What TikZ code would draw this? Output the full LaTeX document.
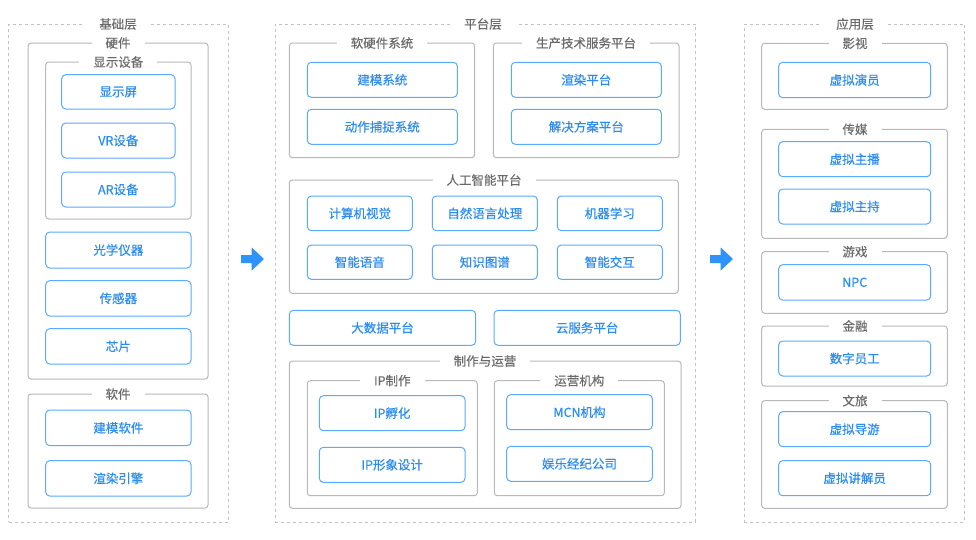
\documentclass[tikz,border=0pt]{standalone}
\usepackage{fontspec}
\setmainfont{Noto Sans CJK SC}
\newfontfamily\itemfont[FakeBold=0.5]{Noto Sans CJK SC}
\newfontfamily\lblfont[FakeBold=0.25]{Noto Sans CJK SC}
\usetikzlibrary{calc}
\definecolor{itemline}{HTML}{5AAAFF}
\definecolor{itemtext}{HTML}{2B8CF2}
\definecolor{grpline}{HTML}{B8B8B8}
\definecolor{outline}{HTML}{C2C2C2}
\definecolor{lbltext}{HTML}{6A6A6A}
\definecolor{arrowblue}{HTML}{2D93FF}
\tikzset{
  base/.style={inner sep=0pt, outer sep=0pt},
  layerbox/.style={base, draw=outline, line width=1pt, dash pattern=on 3pt off 3pt},
  grpbox/.style={base, draw=grpline, line width=1pt, rounded corners=3pt},
  itembox/.style={base, draw=itemline, line width=1pt, rounded corners=4pt, text=itemtext, font=\itemfont\fontsize{12.5}{14}\selectfont},
  grplabel/.style={base, fill=white, text=lbltext, inner xsep=14pt, inner ysep=1pt, font=\lblfont\fontsize{12.5}{14}\selectfont},
}
% \bx{style}{name}{x1}{y1}{x2}{y2}{text}
\newcommand{\bx}[7]{\node[#1, minimum width={#5pt-#3pt}, minimum height={#6pt-#4pt}] (#2) at ({(#3+#5)/2},{(#4+#6)/2}) {#7};}
% \gl{name}{x}{y}{text}
\newcommand{\gl}[4]{\node[grplabel] (#1) at (#2,#3) {#4};}
\begin{document}
\begin{tikzpicture}[x=1pt,y=-1pt]
\useasboundingbox[fill=white] (0,0) rectangle (976,539);

% ---------- 基础层 ----------
\bx{layerbox}{baseL}{8.5}{24}{228}{522}{}
\gl{baseLl}{118}{24}{基础层}
\bx{grpbox}{hw}{28}{43}{208}{379}{}
\gl{hwl}{118}{43}{硬件}
\bx{grpbox}{disp}{45.7}{62}{191}{219}{}
\gl{displ}{118.3}{62}{显示设备}
\bx{itembox}{screen}{61.7}{74.7}{175}{109}{显示屏}
\bx{itembox}{vr}{61.7}{123}{175}{158}{VR设备}
\bx{itembox}{ar}{61.7}{172}{175}{207}{AR设备}
\bx{itembox}{optic}{45.7}{232}{191}{268}{光学仪器}
\bx{itembox}{sensor}{45.7}{280.7}{191}{316}{传感器}
\bx{itembox}{chip}{45.7}{328.7}{191}{364}{芯片}
\bx{grpbox}{sw}{28}{394}{208}{508}{}
\gl{swl}{118}{394}{软件}
\bx{itembox}{modsw}{45.7}{410}{191}{445.7}{建模软件}
\bx{itembox}{render}{45.7}{460.7}{191}{496}{渲染引擎}

% ---------- 平台层 ----------
\bx{layerbox}{platL}{275.3}{24}{695.7}{522}{}
\gl{platLl}{483}{24}{平台层}
\bx{grpbox}{shw}{289.3}{43}{474.7}{157.7}{}
\gl{shwl}{382}{43}{软硬件系统}
\bx{itembox}{modsys}{307.3}{62.3}{457.3}{97.3}{建模系统}
\bx{itembox}{mocap}{307.3}{109.3}{457.3}{144.3}{动作捕捉系统}
\bx{grpbox}{prod}{493.3}{43}{679}{157.7}{}
\gl{prodl}{586}{43}{生产技术服务平台}
\bx{itembox}{rplat}{511.3}{62.3}{661.3}{97.3}{渲染平台}
\bx{itembox}{solplat}{511.3}{109.3}{661.3}{144.3}{解决方案平台}
\bx{grpbox}{ai}{289.3}{180}{678.3}{293.3}{}
\gl{ail}{484}{180}{人工智能平台}
\bx{itembox}{cv}{307.3}{196}{412.3}{230.7}{计算机视觉}
\bx{itembox}{nlp}{432.3}{196}{537.3}{230.7}{自然语言处理}
\bx{itembox}{ml}{557.3}{196}{662.3}{230.7}{机器学习}
\bx{itembox}{speech}{307.3}{245}{412.3}{279.3}{智能语音}
\bx{itembox}{kg}{432.3}{245}{537.3}{279.3}{知识图谱}
\bx{itembox}{inter}{557.3}{245}{662.3}{279.3}{智能交互}
\bx{itembox}{bigdata}{289.3}{310.3}{475.7}{345.3}{大数据平台}
\bx{itembox}{cloud}{494}{310.3}{680.3}{345.3}{云服务平台}
\bx{grpbox}{ops}{289.3}{361}{681}{508.3}{}
\gl{opsl}{485}{361}{制作与运营}
\bx{grpbox}{ip}{307.3}{380.7}{477.3}{495.7}{}
\gl{ipl}{392.3}{380.7}{IP制作}
\bx{itembox}{ipinc}{319.3}{395.7}{465}{430.7}{IP孵化}
\bx{itembox}{ipdes}{319.3}{447.3}{465}{482.3}{IP形象设计}
\bx{grpbox}{org}{494.3}{380.7}{664.3}{495.7}{}
\gl{orgl}{579.3}{380.7}{运营机构}
\bx{itembox}{mcn}{506.7}{394.7}{652.3}{429.7}{MCN机构}
\bx{itembox}{ent}{506.7}{446.3}{652.3}{481.3}{娱乐经纪公司}

% ---------- 应用层 ----------
\bx{layerbox}{appL}{744.3}{24}{964.3}{522.3}{}
\gl{appLl}{855}{24}{应用层}
\bx{grpbox}{film}{761.7}{43.3}{947.3}{109.3}{}
\gl{filml}{855}{43.3}{影视}
\bx{itembox}{actor}{778.7}{62.3}{930.7}{97.7}{虚拟演员}
\bx{grpbox}{media}{761.7}{129.3}{947.3}{238.3}{}
\gl{medial}{855}{129.3}{传媒}
\bx{itembox}{anchor}{778.7}{141.7}{930.7}{176.7}{虚拟主播}
\bx{itembox}{host}{778.7}{189}{930.7}{224}{虚拟主持}
\bx{grpbox}{game}{761.7}{251.7}{947.3}{313.3}{}
\gl{gamel}{855}{251.7}{游戏}
\bx{itembox}{npc}{778.7}{264.7}{930.7}{300}{NPC}
\bx{grpbox}{fin}{761.7}{326}{947.3}{386}{}
\gl{finl}{855}{326}{金融}
\bx{itembox}{staff}{778.7}{341}{930.7}{376}{数字员工}
\bx{grpbox}{tour}{761.7}{400.7}{947.3}{508.3}{}
\gl{tourl}{855}{400.7}{文旅}
\bx{itembox}{guide}{778.7}{411.7}{930.7}{446.7}{虚拟导游}
\bx{itembox}{explain}{778.7}{460.7}{930.7}{495.7}{虚拟讲解员}

% ---------- arrows ----------
\fill[arrowblue] (241,255) -- (251.7,255) -- (251.7,247.5) -- (264,259) -- (251.7,270.5) -- (251.7,263) -- (241,263) -- cycle;
\fill[arrowblue] (710,255) -- (720.7,255) -- (720.7,247.5) -- (733,259) -- (720.7,270.5) -- (720.7,263) -- (710,263) -- cycle;
\end{tikzpicture}
\end{document}
